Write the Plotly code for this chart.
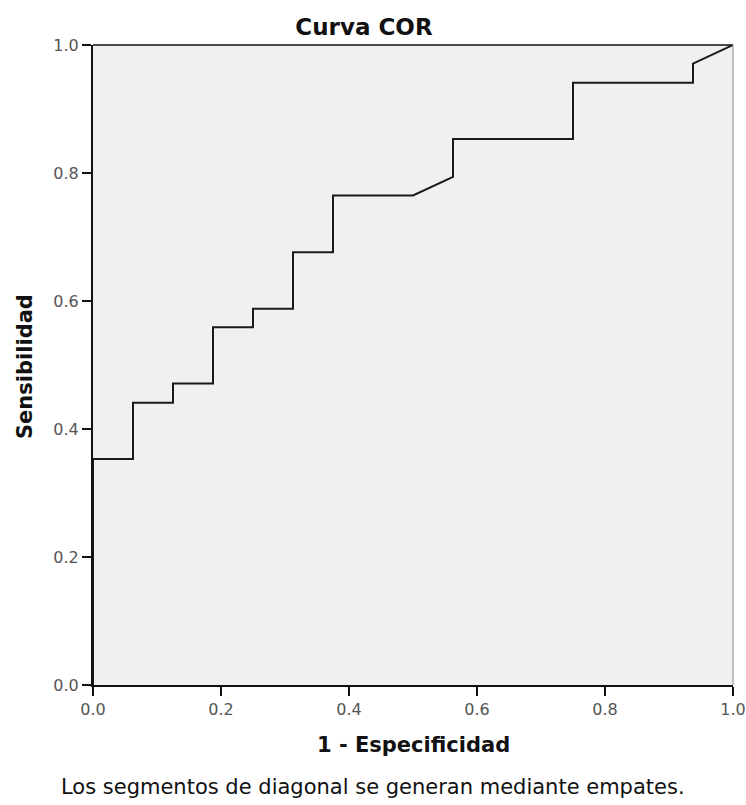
import plotly.graph_objects as go

# ROC curve points (1 - specificity, sensitivity)
fpr = [0.0, 0.0, 0.0625, 0.0625, 0.125, 0.125, 0.1875, 0.1875, 0.25, 0.25,
       0.3125, 0.3125, 0.375, 0.375, 0.5, 0.5625, 0.5625, 0.75, 0.75, 0.9375,
       0.9375, 1.0]
tpr = [0.0, 0.353, 0.353, 0.441, 0.441, 0.471, 0.471, 0.559, 0.559, 0.588,
       0.588, 0.676, 0.676, 0.765, 0.765, 0.794, 0.853, 0.853, 0.941, 0.941,
       0.971, 1.0]
tick_vals = [0.0, 0.2, 0.4, 0.6, 0.8, 1.0]
tick_text = ["0.0", "0.2", "0.4", "0.6", "0.8", "1.0"]

FONT = "DejaVu Sans"

fig = go.Figure()
fig.add_trace(go.Scatter(x=fpr, y=tpr, mode="lines",
                         line=dict(color="#1a1a1a", width=2),
                         showlegend=False, hoverinfo="skip"))

axis_common = dict(
    range=[0, 1], showgrid=False, zeroline=False, automargin=False,
    showline=True, linecolor="#111111", linewidth=2,
    ticks="outside", ticklen=9, tickwidth=1.5, tickcolor="#111111",
    tickvals=tick_vals, ticktext=tick_text, ticklabeloverflow="allow",
    tickfont=dict(family=FONT, size=16, color="#555555"),
)

fig.update_layout(
    width=746, height=805,
    margin=dict(l=93, r=13, t=45, b=120),
    paper_bgcolor="white",
    plot_bgcolor="#f0f0f0",
    xaxis=dict(**axis_common),
    yaxis=dict(**axis_common),
    title=dict(text="<b>Curva COR</b>", x=364 / 746, xanchor="center",
               y=1 - 27 / 805, yanchor="middle",
               font=dict(family=FONT, size=23, color="#111111")),
    shapes=[
        dict(type="line", xref="paper", yref="paper", x0=0, x1=1, y0=1, y1=1,
             line=dict(color="#111111", width=1.5)),
        dict(type="line", xref="paper", yref="paper", x0=1, x1=1, y0=0, y1=1,
             line=dict(color="#888888", width=1)),
    ],
    annotations=[
        dict(text="<b>1 - Especificidad</b>",
             xref="paper", yref="paper", x=0.5, y=-(745 - 685) / 640,
             xanchor="center", yanchor="middle", showarrow=False,
             font=dict(family=FONT, size=21, color="#111111")),
        dict(text="<b>Sensibilidad</b>", textangle=-90,
             xref="paper", yref="paper", x=-(93 - 25) / 640, y=(685 - 367) / 640,
             xanchor="center", yanchor="middle", showarrow=False,
             font=dict(family=FONT, size=21, color="#111111")),
        dict(text="Los segmentos de diagonal se generan mediante empates.",
             xref="paper", yref="paper", x=(373 - 93) / 640, y=-(787 - 685) / 640,
             xanchor="center", yanchor="middle", showarrow=False,
             font=dict(family=FONT, size=21, color="#111111")),
    ],
)

fig.write_html("out.html")
